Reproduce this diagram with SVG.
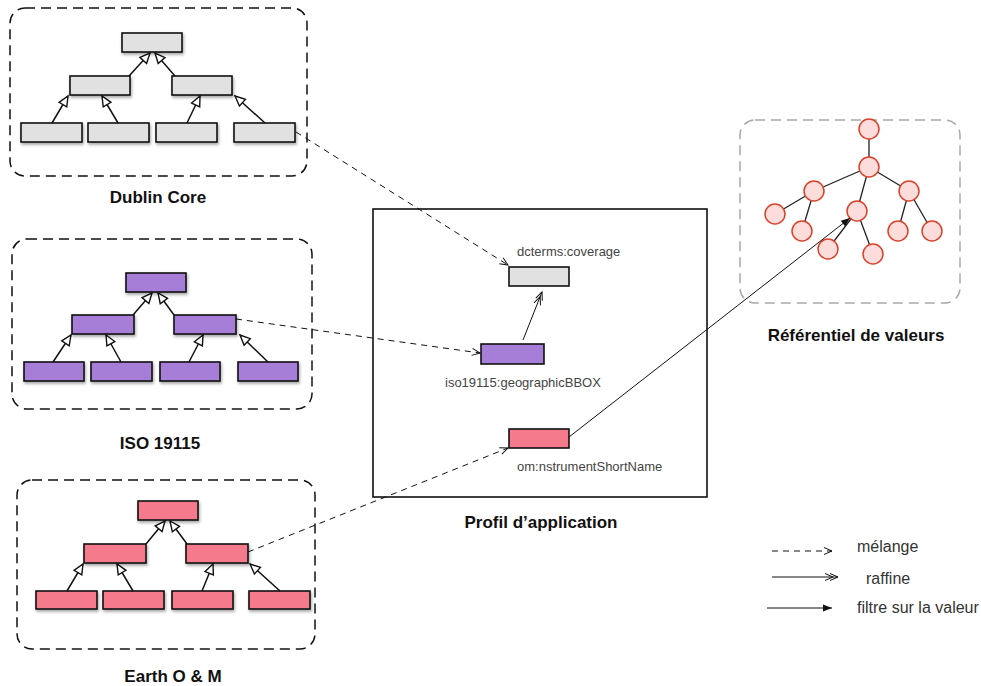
<svg xmlns="http://www.w3.org/2000/svg" width="981" height="686" viewBox="0 0 981 686">
<defs>
<style>
.panel{fill:none;stroke:#111;stroke-width:1.5;stroke-dasharray:10 6}
.vpanel{fill:none;stroke:#a9a9a9;stroke-width:1.5;stroke-dasharray:10 6}
.box{stroke:#111;stroke-width:1.6;filter:url(#sh)}
.cbox{stroke:#111;stroke-width:1.6}
.g{fill:#e1e1e1}.p{fill:#a77ed7}.r{fill:#f57a8c}
.inh{stroke:#111;stroke-width:1.5;fill:none;marker-end:url(#tri)}
.mix{stroke:#111;stroke-width:1;fill:none;stroke-dasharray:6 5;marker-end:url(#open)}
.ref{stroke:#111;stroke-width:1;fill:none;marker-end:url(#dbl)}
.fil{stroke:#111;stroke-width:1;fill:none;marker-end:url(#solid)}
.edge{stroke:#222;stroke-width:1.3}
.node{fill:#fddcdc;stroke:#d8432b;stroke-width:1.5}
.title{font-family:"Liberation Sans",Helvetica,Arial,sans-serif;font-weight:bold;font-size:17px;fill:#111;text-anchor:middle}
.lbl{font-family:"Liberation Sans",Helvetica,Arial,sans-serif;font-size:13px;fill:#444}
.leg{font-family:"Liberation Sans",Helvetica,Arial,sans-serif;font-size:16px;fill:#333}
</style>
<filter id="sh" x="-20%" y="-30%" width="140%" height="180%">
<feDropShadow dx="1" dy="2" stdDeviation="1.5" flood-color="#000" flood-opacity="0.35"/>
</filter>
<marker id="tri" markerUnits="userSpaceOnUse" markerWidth="12" markerHeight="11" refX="10" refY="4.5" orient="auto" overflow="visible">
<path d="M0,0 L10,4.5 L0,9 z" fill="#fff" stroke="#111" stroke-width="1.4"/>
</marker>
<marker id="open" markerUnits="userSpaceOnUse" markerWidth="10" markerHeight="8" refX="8" refY="3.5" orient="auto" overflow="visible">
<path d="M0,0 L8,3.5 L0,7" fill="none" stroke="#111" stroke-width="1"/>
</marker>
<marker id="dbl" markerUnits="userSpaceOnUse" markerWidth="10" markerHeight="8" refX="8" refY="3.5" orient="auto" overflow="visible">
<path d="M0,0 L8,3.5 L0,7 M-5,0 L3,3.5 L-5,7" fill="none" stroke="#111" stroke-width="1"/>
</marker>
<marker id="solid" markerUnits="userSpaceOnUse" markerWidth="10" markerHeight="8" refX="9" refY="3.5" orient="auto" overflow="visible">
<path d="M0,0 L9,3.5 L0,7 z" fill="#111"/>
</marker>
</defs>
<rect width="981" height="686" fill="#fff"/>

<g id="dublin-core">
<rect class="panel" x="10" y="8" width="297" height="168" rx="15"/>
<rect class="box g" x="122" y="33" width="60" height="19"/>
<rect class="box g" x="70" y="76" width="60" height="19"/>
<rect class="box g" x="172" y="76" width="60" height="19"/>
<rect class="box g" x="21" y="123" width="61" height="19"/>
<rect class="box g" x="88" y="123" width="61" height="19"/>
<rect class="box g" x="156" y="123" width="61" height="19"/>
<rect class="box g" x="234" y="123" width="61" height="19"/>
<path class="inh" d="M129,76 L150,53"/>
<path class="inh" d="M175,76 L155,53"/>
<path class="inh" d="M52,123 L68,96"/>
<path class="inh" d="M118,123 L102,96"/>
<path class="inh" d="M187,123 L200,96"/>
<path class="inh" d="M265,123 L235,96"/>
<text class="title" x="158" y="203">Dublin Core</text>
</g>

<g id="iso-19115">
<rect class="panel" x="12" y="239" width="300" height="170" rx="15"/>
<rect class="box p" x="126" y="273" width="60" height="19"/>
<rect class="box p" x="72" y="315" width="62" height="19"/>
<rect class="box p" x="174" y="315" width="62" height="19"/>
<rect class="box p" x="24" y="362" width="60" height="19"/>
<rect class="box p" x="91" y="362" width="61" height="19"/>
<rect class="box p" x="160" y="362" width="60" height="19"/>
<rect class="box p" x="238" y="362" width="60" height="19"/>
<path class="inh" d="M133,315 L152,293"/>
<path class="inh" d="M174,315 L158,293"/>
<path class="inh" d="M53,362 L71,335"/>
<path class="inh" d="M121,362 L106,335"/>
<path class="inh" d="M189,362 L203,335"/>
<path class="inh" d="M268,362 L240,335"/>
<text class="title" x="160" y="449">ISO 19115</text>
</g>

<g id="earth-om">
<rect class="panel" x="17" y="480" width="298" height="169" rx="15"/>
<rect class="box r" x="138" y="501" width="60" height="19"/>
<rect class="box r" x="84" y="544" width="62" height="19"/>
<rect class="box r" x="186" y="544" width="62" height="19"/>
<rect class="box r" x="36" y="591" width="61" height="18"/>
<rect class="box r" x="103" y="591" width="61" height="18"/>
<rect class="box r" x="172" y="591" width="61" height="18"/>
<rect class="box r" x="249" y="591" width="61" height="18"/>
<path class="inh" d="M146,544 L165,521"/>
<path class="inh" d="M187,544 L170,521"/>
<path class="inh" d="M67,591 L83,564"/>
<path class="inh" d="M133,591 L117,564"/>
<path class="inh" d="M202,591 L213,564"/>
<path class="inh" d="M280,591 L250,564"/>
<text class="title" x="173" y="682">Earth O &amp; M</text>
</g>

<g id="profil">
<rect x="373" y="209" width="334" height="288" fill="none" stroke="#111" stroke-width="1.6"/>
<text class="title" x="541" y="528">Profil d’application</text>
</g>
<g id="dcterms-coverage">
<rect class="cbox g" x="509" y="267" width="60" height="19"/>
<text class="lbl" x="517" y="256">dcterms:coverage</text>
</g>
<g id="iso-bbox">
<rect class="cbox p" x="481" y="344" width="63" height="20"/>
<text class="lbl" x="445" y="387">iso19115:geographicBBOX</text>
</g>
<g id="om-instrument">
<rect class="cbox r" x="509" y="429" width="60" height="19"/>
<text class="lbl" x="517" y="471">om:nstrumentShortName</text>
</g>

<g id="referentiel">
<rect class="vpanel" x="740" y="120" width="220" height="183" rx="15"/>
<path class="edge" d="M869,129 L869,167 M869,167 L814,191 M869,167 L857,211 M869,167 L909,191 M814,191 L775,214 M814,191 L802,231 M857,211 L828,249 M857,211 L873,254 M909,191 L898,231 M909,191 L932,231"/>
<circle class="node" cx="869" cy="129" r="10"/>
<circle class="node" cx="869" cy="167" r="10"/>
<circle class="node" cx="814" cy="191" r="10"/>
<circle class="node" cx="909" cy="191" r="10"/>
<circle class="node" cx="857" cy="211" r="10"/>
<circle class="node" cx="775" cy="214" r="10"/>
<circle class="node" cx="802" cy="231" r="10"/>
<circle class="node" cx="828" cy="249" r="10"/>
<circle class="node" cx="873" cy="254" r="10"/>
<circle class="node" cx="898" cy="231" r="10"/>
<circle class="node" cx="932" cy="231" r="10"/>
<text class="title" x="856" y="341">Référentiel de valeurs</text>
</g>

<g id="connectors">
<path class="mix" d="M296,132 L508,265"/>
<path class="mix" d="M236,319 L480,353"/>
<path class="mix" d="M248,552 L508,448"/>
<path class="ref" d="M523,340 L542,292"/>
<path class="fil" d="M569,437 L850,218"/>
</g>

<g id="legend">
<path class="mix" d="M772,551 L832,551"/>
<text class="leg" x="857" y="552">mélange</text>
<path class="ref" d="M772,577 L838,577"/>
<text class="leg" x="866" y="584">raffine</text>
<path class="fil" d="M767,608 L832,608"/>
<text class="leg" x="857" y="613">filtre sur la valeur</text>
</g>
</svg>
